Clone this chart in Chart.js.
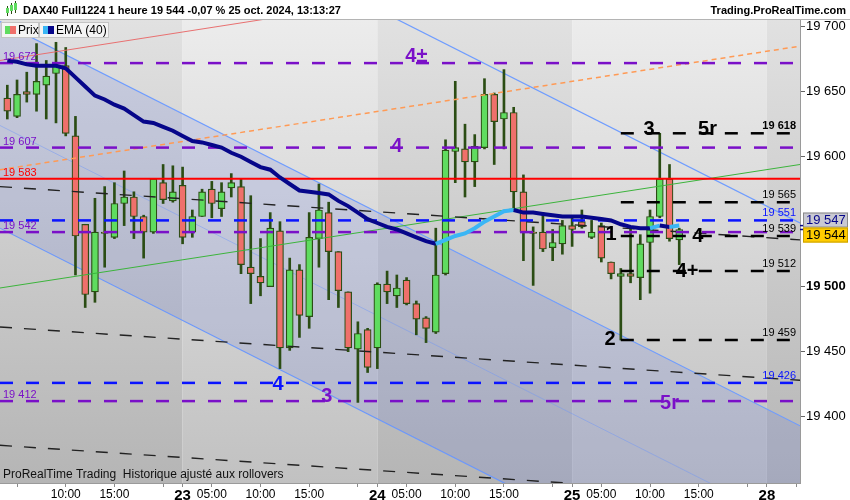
<!DOCTYPE html>
<html>
<head>
<meta charset="utf-8">
<script src="https://cdn.jsdelivr.net/npm/chart.js@4.4.1/dist/chart.umd.min.js"></script>
<style>
    html, body { margin: 0; padding: 0; background: #fff; overflow: hidden; }
    #wrap { width: 850px; height: 500px; }
</style>
</head>
<body>
<div id="wrap"><canvas id="daxChart" width="850" height="500"></canvas></div>
<script>
//#region Data (hourly bars, index 0 = 22 oct 04:00)
const opens  = [19645, 19631, 19650, 19648, 19655, 19664, 19670, 19616, 19548, 19496,
                19542, 19538, 19564, 19569, 19554, 19542, 19580, 19566, 19578, 19542,
                19554, 19575, 19560, 19576, 19577, 19515, 19508, 19500, 19543, 19453,
                19513, 19477, 19537, 19557, 19527, 19496, 19452, 19467, 19453, 19502,
                19493, 19505, 19487, 19476, 19465, 19510, 19604, 19606, 19596, 19607,
                19648, 19629, 19634, 19573, 19542, 19542, 19530, 19533, 19547, 19550,
                19538, 19547, 19519, 19508, 19510, 19507, 19534, 19554, 19583, 19536];
const highs  = [19655, 19659, 19665, 19687, 19674, 19688, 19684, 19631, 19548, 19568,
                19577, 19580, 19589, 19573, 19555, 19583, 19594, 19593, 19592, 19559,
                19575, 19581, 19580, 19587, 19583, 19570, 19537, 19557, 19550, 19522,
                19517, 19557, 19579, 19565, 19527, 19496, 19473, 19468, 19503, 19512,
                19509, 19507, 19489, 19477, 19545, 19613, 19658, 19625, 19617, 19660,
                19649, 19667, 19638, 19586, 19546, 19557, 19544, 19551, 19554, 19559,
                19551, 19549, 19519, 19514, 19545, 19540, 19559, 19618, 19594, 19545];
const lows   = [19629, 19630, 19642, 19635, 19629, 19626, 19616, 19509, 19484, 19488,
                19515, 19537, 19547, 19537, 19522, 19541, 19564, 19565, 19533, 19538,
                19554, 19553, 19554, 19569, 19510, 19487, 19493, 19500, 19437, 19451,
                19461, 19468, 19515, 19490, 19484, 19450, 19411, 19434, 19437, 19487,
                19484, 19486, 19463, 19457, 19464, 19509, 19580, 19569, 19577, 19606,
                19594, 19606, 19559, 19520, 19501, 19527, 19520, 19525, 19531, 19545,
                19537, 19519, 19506, 19459, 19503, 19490, 19495, 19553, 19535, 19517];
const closes = [19635, 19648, 19648, 19658, 19662, 19670, 19618, 19539, 19494, 19542,
                19541, 19564, 19569, 19554, 19542, 19583, 19567, 19573, 19538, 19554,
                19573, 19564, 19573, 19580, 19517, 19510, 19503, 19545, 19453, 19513,
                19478, 19538, 19559, 19527, 19497, 19453, 19464, 19438, 19502, 19496,
                19499, 19487, 19475, 19468, 19509, 19605, 19607, 19596, 19608, 19648,
                19627, 19634, 19573, 19542, 19541, 19529, 19534, 19547, 19544, 19546,
                19542, 19522, 19510, 19510, 19508, 19533, 19554, 19583, 19537, 19544];
const ema40  = [19674, 19673, 19671, 19670, 19670, 19670, 19668, 19661, 19654, 19647,
                19644, 19640, 19637, 19632, 19627, 19626, 19623, 19620, 19616, 19612,
                19611, 19609, 19607, 19603, 19600, 19596, 19592, 19590, 19584, 19579,
                19574, 19573, 19572, 19571, 19566, 19562, 19557, 19552, 19549, 19546,
                19544, 19541, 19538, 19535, 19533, 19536, 19539, 19541, 19545, 19550,
                19554, 19558, 19559, 19557, 19557, 19556, 19555, 19554, 19554, 19554,
                19553, 19552, 19551, 19548, 19546, 19545, 19545, 19547, 19546, 19547];

const tickBars   = [1, 6, 11, 16, 18, 21, 26, 31, 36, 38, 41, 46, 51, 56, 58, 61, 66, 71, 76, 78, 81];
const tickLabels = ["", "10:00", "15:00", "", "23", "05:00", "10:00", "15:00", "", "24",
                    "05:00", "10:00", "15:00", "", "25", "05:00", "10:00", "15:00", "", "28", ""];
const dayStarts  = [18, 38, 58, 78];
const yTicks     = [19400, 19450, 19500, 19600, 19650, 19700];

const purpleLevels = [19672, 19607, 19542, 19412];
const blueLevels   = [19551, 19426];
const redLevel     = 19583;
const blackLevels  = [19618, 19565, 19539, 19512, 19459];

// trend lines: value at the left edge and at the right edge of the plot
const channelTop    = [19860, 19549];
const channelMid    = [19704, 19393];
const channelQuart  = [19624, 19314];
const channelBottom = [19545, 19234];
const blackTrend1   = [19577, 19536];
const blackTrend2   = [19469, 19428];
const blackTrend3   = [19378, 19337];
const redTrend      = [19674, 19770];
const orangeTrend   = [19590, 19685];
const greenTrend    = [19499, 19594];

const lastPrice = 19544;
const lastEma   = 19547;
//#endregion

//#region Styles
const X_MIN = -0.75, X_MAX = 81.4, LEVEL_END = 81.0, BLACK_START = 63;
const PURPLE = "#7a10c8", BLUE = "#0a14ff", RED = "#ff0000";
const WICK = "#2b4d14", UP = "#5fdc5f", DOWN = "#ef706b";
const EMA_UP = "#3ab6f5", EMA_DOWN = "#06068a";
const NARROW = '"Liberation Sans Narrow", "Arial Narrow", "Liberation Sans", sans-serif';
const SANS = '"Liberation Sans", Arial, sans-serif';

const waveLabels = [
    { text: "4\u00b1", bar: 42,   value: 19672, dy: -7,   color: PURPLE },
    { text: "4",      bar: 40,   value: 19607, dy: -1,   color: PURPLE },
    { text: "4",      bar: 27.8, value: 19426, dy: 2,    color: BLUE },
    { text: "3",      bar: 32.8, value: 19412, dy: -5,   color: PURPLE },
    { text: "5r",     bar: 68,   value: 19412, dy: 2,    color: PURPLE },
    { text: "3",      bar: 65.9, value: 19618, dy: -3.5, color: "#000" },
    { text: "5r",     bar: 71.9, value: 19618, dy: -3.5, color: "#000" },
    { text: "1",      bar: 62,   value: 19539, dy: -2,   color: "#000" },
    { text: "4",      bar: 70.9, value: 19539, dy: 0,    color: "#000" },
    { text: "4+",     bar: 69.8, value: 19512, dy: 0,    color: "#000" },
    { text: "2",      bar: 61.9, value: 19459, dy: -1,   color: "#000" }
];
//#endregion

//#region Helpers
function fmt(v) {
    const s = String(Math.round(v));
    return s.slice(0, s.length - 3) + " " + s.slice(-3);
}

function edgeLine(vals) {
    return [{ x: X_MIN, y: vals[0] }, { x: X_MAX, y: vals[1] }];
}

function flatLine(v, from, to) {
    return [{ x: from, y: v }, { x: to, y: v }];
}

function lineSet(data, color, width, dash, order, extra) {
    return Object.assign({
        type: "line",
        data: data,
        borderColor: color,
        borderWidth: width,
        borderDash: dash,
        pointRadius: 0,
        fill: false,
        tension: 0,
        order: order
    }, extra || {});
}
//#endregion

//#region Plugins
const backgroundPlugin = {
    id: "dayBands",
    beforeDraw(chart) {
        const { ctx, chartArea: a, scales: { x } } = chart;
        ctx.save();
        ctx.fillStyle = "#fff";
        ctx.fillRect(0, 0, chart.width, chart.height);
        const edges = [a.left].concat(dayStarts.map(d => x.getPixelForValue(d)), [a.right]);
        for (let k = 0; k < edges.length - 1; k++) {
            const g = ctx.createLinearGradient(0, a.top, 0, a.bottom);
            if (k % 2 === 0) {
                g.addColorStop(0, "#e1e1e1");
                g.addColorStop(1, "#b5b5b5");
            } else {
                g.addColorStop(0, "#ececec");
                g.addColorStop(1, "#c1c1c1");
            }
            ctx.fillStyle = g;
            ctx.fillRect(edges[k], a.top, edges[k + 1] - edges[k], a.bottom - a.top);
        }
        ctx.restore();
    }
};

const overlayPlugin = {
    id: "overlay",
    afterDatasetsDraw(chart) {
        const { ctx, chartArea: a, scales: { x, y } } = chart;
        ctx.save();
        ctx.beginPath();
        ctx.rect(a.left, a.top, a.right - a.left, a.bottom - a.top);
        ctx.clip();

        // level prices on the left
        ctx.font = "11px " + SANS;
        ctx.textAlign = "left";
        ctx.textBaseline = "alphabetic";
        ctx.fillStyle = PURPLE;
        purpleLevels.forEach(v => ctx.fillText(fmt(v), 3, y.getPixelForValue(v) - 3));
        ctx.fillStyle = RED;
        ctx.fillText(fmt(redLevel), 3, y.getPixelForValue(redLevel) - 3);

        // level prices on the right
        ctx.textAlign = "right";
        blackLevels.forEach((v, k) => {
            ctx.font = (k === 0 ? "bold " : "") + "11px " + SANS;
            ctx.fillStyle = "#000";
            ctx.fillText(fmt(v), 796, y.getPixelForValue(v) - 4);
        });
        ctx.font = "11px " + SANS;
        ctx.fillStyle = BLUE;
        blueLevels.forEach(v => ctx.fillText(fmt(v), 796, y.getPixelForValue(v) - 4));

        // wave counts
        ctx.font = "bold 20px " + SANS;
        ctx.textAlign = "center";
        ctx.textBaseline = "middle";
        waveLabels.forEach(l => {
            ctx.fillStyle = l.color;
            ctx.fillText(l.text, x.getPixelForValue(l.bar), y.getPixelForValue(l.value) + l.dy);
        });

        // footer note
        ctx.font = "12px " + NARROW;
        ctx.textAlign = "left";
        ctx.textBaseline = "middle";
        ctx.fillStyle = "#111";
        ctx.fillText("ProRealTime Trading  Historique ajusté aux rollovers", 3, a.bottom - 8);
        ctx.restore();
    },
    afterDraw(chart) {
        const { ctx, chartArea: a, scales: { y } } = chart;
        ctx.save();

        // header
        ctx.fillStyle = "#fff";
        ctx.fillRect(0, 0, chart.width, a.top);
        ctx.strokeStyle = "#b4b4b4";
        ctx.lineWidth = 1;
        ctx.beginPath();
        ctx.moveTo(0, a.top - 0.5);
        ctx.lineTo(chart.width, a.top - 0.5);
        ctx.stroke();
        // candle icon
        [[6, 8, 5, UP], [10, 5, 6, UP], [14, 3, 7, UP]].forEach(c => {
            ctx.fillStyle = WICK;
            ctx.fillRect(c[0] + 1, c[1] - 2, 1, c[2] + 5);
            ctx.fillStyle = c[3];
            ctx.fillRect(c[0], c[1], 3, c[2]);
        });
        ctx.fillStyle = "#000";
        ctx.font = "bold 11px " + SANS;
        ctx.textBaseline = "middle";
        ctx.textAlign = "left";
        ctx.fillText("DAX40 Full1224 1 heure 19 544 -0,07 % 25 oct. 2024, 13:13:27", 23, 11);
        ctx.textAlign = "right";
        ctx.fillText("Trading.ProRealTime.com", 846, 11);

        // legend tabs
        ctx.textAlign = "left";
        ctx.font = "12px " + SANS;
        [[1, 38, UP, DOWN, "Prix"], [39, 70, EMA_UP, EMA_DOWN, "EMA (40)"]].forEach(t => {
            ctx.fillStyle = "#f4f4f4";
            ctx.fillRect(t[0], 22, t[1], 16);
            ctx.strokeStyle = "#c4c4c4";
            ctx.strokeRect(t[0] + 0.5, 22.5, t[1] - 1, 15);
            ctx.fillStyle = t[2];
            ctx.fillRect(t[0] + 4, 26, 5, 8);
            ctx.fillStyle = t[3];
            ctx.fillRect(t[0] + 9, 26, 6, 8);
            ctx.fillStyle = "#000";
            ctx.fillText(t[4], t[0] + 17, 30.5);
        });

        // last value boxes on the price axis
        let pe = y.getPixelForValue(lastEma), pp = y.getPixelForValue(lastPrice);
        const markE = pe, markP = pp;
        if (pp - pe < 15) {
            const mid = (pe + pp) / 2;
            pe = mid - 7.5;
            pp = mid + 7.5;
        }
        ctx.strokeStyle = EMA_DOWN;
        ctx.lineWidth = 1.5;
        [markE, markP].forEach(m => {
            ctx.beginPath();
            ctx.moveTo(a.right, m);
            ctx.lineTo(a.right + 6, m);
            ctx.stroke();
        });
        ctx.lineWidth = 1;
        ctx.font = "13px " + SANS;
        [[pe, "#c9c9d2", "#8a8a8a", EMA_DOWN, lastEma], [pp, "#ffcc00", "#c9a000", "#000", lastPrice]].forEach(b => {
            ctx.fillStyle = b[1];
            ctx.fillRect(a.right + 3, b[0] - 7.5, 45, 15);
            ctx.strokeStyle = b[2];
            ctx.strokeRect(a.right + 3.5, b[0] - 7, 44, 14);
            ctx.fillStyle = b[3];
            ctx.fillText(fmt(b[4]), a.right + 6, b[0] + 0.5);
        });
        ctx.restore();
    }
};
//#endregion

//#region Chart
window.addEventListener("DOMContentLoaded", () => {
    LoadDaxChart();
});

function LoadDaxChart() {
    const element = document.querySelector("#daxChart");
    const bodyData = opens.map((o, i) => ({ x: i, y: [o, closes[i]] }));
    const wickData = opens.map((o, i) => ({ x: i, y: [lows[i], highs[i]] }));
    const bodyColors = opens.map((o, i) => (closes[i] >= o ? UP : DOWN));
    const emaData = ema40.map((v, i) => ({ x: i, y: v }));

    const datasets = [
        lineSet(edgeLine(channelMid), "#6e9cff", 1.2, [], 40, { fill: "+1", backgroundColor: "rgba(90,115,225,0.17)" }),
        lineSet(edgeLine(channelBottom), "#6e9cff", 1.2, [], 41),
        lineSet(edgeLine(channelTop), "#6e9cff", 1.2, [], 42),
        lineSet(edgeLine(channelQuart), "rgba(110,156,255,0.45)", 1, [], 43),
        {
            type: "bar",
            data: wickData,
            backgroundColor: WICK,
            barThickness: 2,
            grouped: false,
            order: 21
        },
        {
            type: "bar",
            data: bodyData,
            backgroundColor: bodyColors,
            borderColor: WICK,
            borderWidth: 1.2,
            borderSkipped: false,
            barThickness: 7,
            grouped: false,
            order: 20
        },
        lineSet(edgeLine(blackTrend1), "#222", 1.4, [12, 12], 12),
        lineSet(edgeLine(blackTrend2), "#222", 1.4, [12, 12], 12),
        lineSet(edgeLine(blackTrend3), "#222", 1.4, [12, 12], 12),
        lineSet(edgeLine(redTrend), "#e87070", 1, [], 12),
        lineSet(edgeLine(orangeTrend), "#ff9a55", 1.5, [5, 4], 12),
        lineSet(edgeLine(greenTrend), "#3cb43c", 1, [], 12),
        lineSet(flatLine(redLevel, X_MIN, X_MAX), RED, 2, [], 8)
    ];
    purpleLevels.forEach(v => datasets.push(lineSet(flatLine(v, X_MIN, LEVEL_END), PURPLE, 2.5, [13, 13], 7)));
    blueLevels.forEach(v => datasets.push(lineSet(flatLine(v, X_MIN, LEVEL_END), BLUE, 2.5, [13, 13], 7)));
    blackLevels.forEach(v => datasets.push(lineSet(flatLine(v, BLACK_START, LEVEL_END), "#000", 2.5, [13, 13], 7)));
    datasets.push(lineSet(emaData, EMA_DOWN, 4, [], 1, {
        segment: {
            borderColor: c => (c.p1.parsed.y > c.p0.parsed.y ? EMA_UP : EMA_DOWN)
        }
    }));

    const chart = new Chart(element, {
        type: "bar",
        data: { datasets: datasets },
        options: {
            responsive: false,
            animation: false,
            layout: { padding: { top: 20, left: 0, right: 0, bottom: 0 } },
            plugins: {
                legend: { display: false },
                tooltip: { enabled: false }
            },
            scales: {
                x: {
                    type: "linear",
                    min: X_MIN,
                    max: X_MAX,
                    offset: false,
                    grid: { drawOnChartArea: false, drawTicks: true, tickLength: 4, color: "#8a8a8a", offset: false },
                    border: { display: true, color: "#9a9a9a" },
                    afterBuildTicks: scale => {
                        scale.ticks = tickBars.map(v => ({ value: v }));
                    },
                    afterFit: scale => {
                        scale.height = 17;
                        scale.paddingLeft = 0;
                        scale.paddingRight = 0;
                    },
                    ticks: {
                        autoSkip: false,
                        maxRotation: 0,
                        padding: 0,
                        color: "#000",
                        callback: value => tickLabels[tickBars.indexOf(value)],
                        font: c => {
                            const lbl = c.tick ? tickLabels[tickBars.indexOf(c.tick.value)] : "";
                            return lbl && lbl.length === 2
                                ? { family: NARROW, size: 15, weight: "bold" }
                                : { family: NARROW, size: 12 };
                        }
                    }
                },
                y: {
                    type: "linear",
                    position: "right",
                    min: 19349,
                    max: 19705.15,
                    grid: { drawOnChartArea: false, drawTicks: true, tickLength: 5, color: "#666" },
                    border: { display: true, color: "#9a9a9a" },
                    afterBuildTicks: scale => {
                        scale.ticks = yTicks.map(v => ({ value: v }));
                    },
                    afterFit: scale => {
                        scale.width = 50;
                        scale.paddingTop = 0;
                        scale.paddingBottom = 0;
                    },
                    ticks: {
                        padding: 1,
                        color: "#000",
                        callback: value => fmt(value),
                        font: c => (c.tick && c.tick.value === 19500
                            ? { family: SANS, size: 13, weight: "bold" }
                            : { family: SANS, size: 13 })
                    }
                }
            }
        },
        plugins: [backgroundPlugin, overlayPlugin]
    });
}
//#endregion
</script>
</body>
</html>
